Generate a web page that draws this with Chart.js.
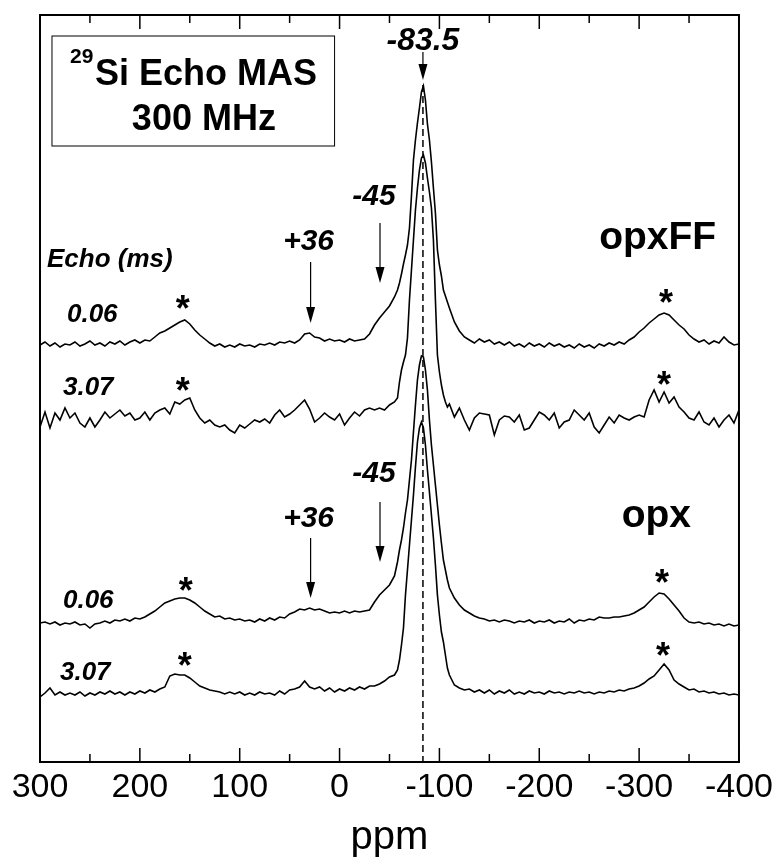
<!DOCTYPE html>
<html>
<head>
<meta charset="utf-8">
<script src="https://cdn.jsdelivr.net/npm/chart.js@4.4.0/dist/chart.umd.min.js"></script>
<style>
  html, body { margin: 0; padding: 0; background: #fff; }
  #wrap { width: 782px; height: 861px; }
</style>
</head>
<body>
<div id="wrap"><canvas id="grafico" width="782" height="861"></canvas></div>
<script>
// eje x (ppm), paso fino alrededor del pico principal
const ppm = [
  300, 295, 290, 285, 280, 275, 270, 265, 260, 255, 250, 245, 240, 235, 230, 225, 220, 215, 210, 205,
  200, 195, 190, 185, 180, 175, 170, 165, 160, 155, 150, 145, 140, 135, 130, 125, 120, 115, 110, 105,
  100, 95, 90, 85, 80, 75, 70, 65, 60, 55, 50, 45, 40, 35, 30, 25, 20, 15, 10, 5,
  0, -5, -10, -15, -20, -25, -30, -35, -40, -45, -50, -55,
  -58, -60, -62, -64, -66, -68, -70, -72, -74, -76, -78, -80, -82, -84, -86, -88, -90, -92, -94, -96,
  -98, -100, -102, -104, -106, -108, -110,
  -115, -120, -125, -130, -135, -140, -145, -150, -155, -160, -165, -170, -175, -180, -185, -190,
  -195, -200, -205, -210, -215, -220, -225, -230, -235, -240, -245, -250, -255, -260, -265, -270,
  -275, -280, -285, -290, -295, -300, -305, -310, -315, -320, -325, -330, -335, -340, -345, -350,
  -355, -360, -365, -370, -375, -380, -385, -390, -395, -400
];

// intensidades (u.a., espectros apilados)
const opxFF_006 = [
  417, 420, 416, 419, 415, 418, 417, 420, 416, 418, 421, 417, 419, 416, 420, 418, 421, 417, 420, 422,
  419, 422, 421, 425, 429, 431, 434, 437, 440, 442, 438, 432, 427, 423, 419, 416, 418, 415, 417, 415,
  418, 416, 417, 415, 418, 417, 419, 417, 420, 419, 421, 419, 422, 428, 429, 425, 424, 421, 423, 421,
  422, 420, 423, 421, 422, 423, 428, 437, 444, 450, 456, 465,
  472, 479, 488, 498, 507, 517, 534, 566, 602, 622, 639, 654, 670, 676, 662, 638, 622, 600, 574, 549,
  512, 497, 486, 472, 466, 460, 454,
  440, 431, 425, 422, 419, 423, 420, 422, 418, 420, 417, 420, 416, 418, 415, 419,
  416, 418, 415, 419, 416, 418, 415, 417, 414, 418, 415, 417, 414, 418, 416, 419,
  417, 420, 418, 422, 425, 430, 434, 439, 443, 447, 449, 447, 442, 437, 433, 427,
  423, 420, 422, 418, 421, 419, 425, 420, 417, 418
];
const opxFF_307 = [
  335, 350, 334, 349, 342, 354, 344, 349, 339, 335, 344, 335, 342, 350, 344, 348, 352, 346, 349, 342,
  344, 350, 342, 349, 352, 354, 348, 360, 358, 362, 364, 352, 344, 339, 342, 337, 335, 337, 332, 329,
  337, 334, 338, 342, 340, 343, 339, 347, 352, 345, 348, 352, 357, 362, 353, 340, 344, 349, 345, 342,
  348, 337, 344, 350, 346, 352, 354, 352, 354, 352, 357, 360,
  364, 380, 392, 400, 407, 424, 462, 492, 522, 552, 574, 592, 604, 607, 599, 584, 570, 554, 522, 462,
  407, 390, 377, 367, 360, 355, 358,
  345, 354, 342, 332, 344, 349, 348, 347, 327, 342, 346, 345, 340, 347, 332, 334,
  342, 350, 347, 342, 349, 334, 340, 342, 352, 347, 342, 349, 335, 329, 337, 345,
  339, 347, 344, 342, 345, 347, 345, 362, 372, 360, 370, 359, 365, 355, 350, 344,
  342, 350, 340, 337, 344, 335, 342, 347, 339, 352
];
const opx_006 = [
  139, 140, 138, 140, 137, 139, 138, 140, 137, 138, 134, 138, 139, 141, 139, 142, 141, 143, 141, 144,
  143, 145, 148, 151, 155, 159, 161, 163, 164, 164, 162, 159, 155, 151, 148, 145, 146, 143, 144, 142,
  143, 141, 142, 140, 143, 141, 144, 142, 145, 144, 148, 150, 153, 152, 154, 152, 153, 151, 149, 150,
  149, 151, 149, 151, 150, 151, 152, 160, 167, 172, 177, 186,
  200, 212, 222, 234, 249, 262, 282, 302, 330, 357, 382, 397, 406, 405, 392, 372, 342, 317, 297, 277,
  257, 237, 219, 202, 192, 182, 174,
  164, 157, 152, 149, 146, 144, 143, 141, 142, 140, 142, 141, 139, 141, 140, 142,
  139, 141, 140, 142, 139, 141, 140, 143, 139, 142, 141, 143, 142, 145, 144, 144,
  145, 145, 146, 147, 149, 152, 155, 160, 165, 169, 168, 163, 157, 151, 144, 140,
  139, 140, 138, 139, 137, 138, 136, 138, 136, 137
];
const opx_307 = [
  65, 69, 74, 67, 70, 67, 69, 67, 70, 66, 69, 67, 70, 68, 71, 68, 70, 67, 70, 68,
  71, 69, 72, 70, 73, 75, 86, 88, 87, 87, 84, 80, 76, 74, 72, 71, 70, 68, 70, 68,
  70, 67, 69, 67, 70, 68, 69, 67, 71, 68, 72, 73, 75, 81, 75, 73, 75, 71, 74, 70,
  73, 71, 74, 72, 75, 73, 76, 76, 78, 81, 85, 87,
  92, 102, 117, 134, 167, 192, 217, 242, 267, 295, 320, 334, 340, 334, 317, 292, 270, 247, 224, 197,
  167, 147, 130, 120, 107, 94, 87,
  77, 74, 72, 73, 70, 72, 69, 72, 68, 71, 69, 72, 68, 70, 68, 71,
  69, 70, 68, 71, 69, 70, 68, 70, 69, 71, 69, 70, 68, 70, 69, 71,
  70, 72, 71, 73, 74, 76, 79, 83, 86, 92, 98, 92, 82, 78, 75, 72,
  73, 70, 71, 69, 70, 68, 69, 67, 68, 67
];

// marcas del eje x
const xTicks = [300, 200, 100, 0, -100, -200, -300, -400];
const xMinorTicks = [250, 150, 50, -50, -150, -250, -350];

const fam = '"Liberation Sans", Arial, Helvetica, sans-serif';

// textos y flechas (en coordenadas de datos: ppm, intensidad)
const textos = [
  { t: "29", x: 270, y: 699, font: "bold 21px", align: "left" },
  { t: "Si Echo MAS", x: 245, y: 677, font: "bold 36px", align: "left" },
  { t: "300 MHz", x: 208, y: 632, font: "bold 36px", align: "left" },
  { t: "-83.5", x: -83.5, y: 712, font: "italic bold 32px", align: "center" },
  { t: "opxFF", x: -260, y: 513, font: "bold 39px", align: "left" },
  { t: "opx", x: -282.5, y: 235, font: "bold 39px", align: "left" },
  { t: "Echo (ms)", x: 293, y: 495, font: "italic bold 26px", align: "left" },
  { t: "0.06", x: 273, y: 440, font: "italic bold 26px", align: "left" },
  { t: "3.07", x: 277, y: 367, font: "italic bold 26px", align: "left" },
  { t: "0.06", x: 277, y: 154, font: "italic bold 26px", align: "left" },
  { t: "3.07", x: 280, y: 82, font: "italic bold 26px", align: "left" },
  { t: "+36", x: 31, y: 512, font: "italic bold 30px", align: "center" },
  { t: "-45", x: -34.5, y: 557, font: "italic bold 30px", align: "center" },
  { t: "+36", x: 31, y: 235, font: "italic bold 30px", align: "center" },
  { t: "-45", x: -34.5, y: 280, font: "italic bold 30px", align: "center" }
];
const flechas = [
  { x: -83.5, y0: 710, y1: 682 },
  { x: 29, y0: 500, y1: 439 },
  { x: -40.5, y0: 539, y1: 479 },
  { x: 29, y0: 224, y1: 164 },
  { x: -40.5, y0: 260, y1: 200 }
];
const asteriscos = [
  [157, 462], [-327, 468], [157, 380], [-325, 386],
  [154, 180], [-323, 188], [155, 105], [-324, 115]
];

function serie(vals) {
  return ppm.map((x, i) => ({ x: x, y: vals[i] }));
}

const decoracion = {
  id: "decoracion",
  afterDatasetsDraw(chart) {
    const ctx = chart.ctx;
    const xs = chart.scales.x;
    const ys = chart.scales.y;
    const area = chart.chartArea;
    const px = v => xs.getPixelForValue(v);
    const py = v => ys.getPixelForValue(v);

    ctx.save();
    ctx.strokeStyle = "#000";
    ctx.fillStyle = "#000";

    // línea punteada en -83.5
    ctx.lineWidth = 1.5;
    ctx.setLineDash([7, 4]);
    ctx.beginPath();
    ctx.moveTo(px(-83.5), py(677));
    ctx.lineTo(px(-83.5), area.bottom);
    ctx.stroke();
    ctx.setLineDash([]);

    // marco
    ctx.lineWidth = 2;
    ctx.strokeRect(area.left, area.top, area.right - area.left, area.bottom - area.top);

    // marcas hacia adentro (abajo y arriba)
    ctx.lineWidth = 1.5;
    ctx.beginPath();
    xTicks.forEach(v => {
      const x = px(v);
      ctx.moveTo(x, area.bottom); ctx.lineTo(x, area.bottom - 14);
      ctx.moveTo(x, area.top); ctx.lineTo(x, area.top + 14);
    });
    xMinorTicks.forEach(v => {
      const x = px(v);
      ctx.moveTo(x, area.bottom); ctx.lineTo(x, area.bottom - 8);
      ctx.moveTo(x, area.top); ctx.lineTo(x, area.top + 8);
    });
    ctx.stroke();

    // recuadro del título
    ctx.lineWidth = 1;
    const bx0 = px(288), bx1 = px(5), by0 = py(726), by1 = py(616);
    ctx.strokeRect(bx0, by0, bx1 - bx0, by1 - by0);

    // textos
    ctx.textBaseline = "alphabetic";
    textos.forEach(o => {
      ctx.font = o.font + " " + fam;
      ctx.textAlign = o.align;
      ctx.fillText(o.t, px(o.x), py(o.y));
    });

    // asteriscos
    ctx.font = "bold 36px " + fam;
    ctx.textAlign = "center";
    asteriscos.forEach(a => {
      ctx.fillText("*", px(a[0]), py(a[1]) + 21);
    });

    // flechas
    flechas.forEach(f => {
      const x = px(f.x), ya = py(f.y0), yb = py(f.y1);
      ctx.lineWidth = 1.2;
      ctx.beginPath();
      ctx.moveTo(x, ya);
      ctx.lineTo(x, yb - 14);
      ctx.stroke();
      ctx.beginPath();
      ctx.moveTo(x - 4.5, yb - 16);
      ctx.lineTo(x + 4.5, yb - 16);
      ctx.lineTo(x, yb);
      ctx.closePath();
      ctx.fill();
    });

    ctx.restore();
  }
};

const ctx = document.getElementById("grafico");

const chart = new Chart(ctx, {
  type: "line",
  data: {
    datasets: [
      { label: "opxFF 0.06", data: serie(opxFF_006) },
      { label: "opxFF 3.07", data: serie(opxFF_307) },
      { label: "opx 0.06", data: serie(opx_006) },
      { label: "opx 3.07", data: serie(opx_307) }
    ]
  },
  options: {
    responsive: false,
    animation: false,
    layout: { padding: { left: 40, right: 39, top: 15, bottom: 0 } },
    elements: {
      point: { radius: 0 },
      line: { borderWidth: 1.6, borderColor: "#000", tension: 0, fill: false }
    },
    plugins: {
      legend: { display: false },
      tooltip: { enabled: false }
    },
    scales: {
      x: {
        type: "linear",
        reverse: true,
        min: -400,
        max: 300,
        afterBuildTicks: s => { s.ticks = xTicks.map(v => ({ value: v })); },
        afterFit: s => { s.height = 99; },
        grid: { display: false, drawTicks: false },
        border: { display: false },
        ticks: {
          autoSkip: false,
          maxRotation: 0,
          padding: 9,
          color: "#000",
          font: { family: fam, size: 34, lineHeight: 1 },
          callback: v => String(v)
        },
        title: {
          display: true,
          text: "ppm",
          color: "#000",
          font: { family: fam, size: 40, lineHeight: 1 },
          padding: { top: 0, bottom: 3 }
        }
      },
      y: { display: false, min: 0, max: 747 }
    }
  },
  plugins: [decoracion]
});
</script>
</body>
</html>
